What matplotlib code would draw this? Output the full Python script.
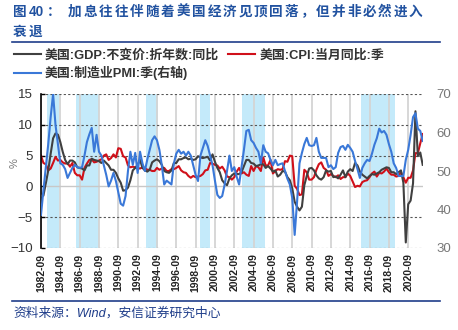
import matplotlib
matplotlib.use("Agg")
import matplotlib.pyplot as plt
from matplotlib.lines import Line2D
import numpy as np
import pandas as pd

plt.rcParams['font.family'] = ['Liberation Sans', 'Noto Sans CJK SC', 'DejaVu Sans']
plt.rcParams['axes.unicode_minus'] = True

# 季度：1982Q3 - 2022Q1
quarters = pd.period_range('1982Q3', '2022Q1', freq='Q')

# 美国:GDP:不变价:折年数:同比 (%)
gdp = [-1.5, -1.5,
       0.5, 2.6, 5.3, 7.8,
       8.6, 8.4, 7.2, 5.6,
       4.3, 3.6, 4.2, 4.2,
       3.9, 3.1, 3.0, 2.9,
       2.6, 3.4, 3.4, 4.5,
       4.3, 4.2, 4.1, 3.8,
       4.2, 3.8, 3.4, 2.7,
       2.7, 2.2, 1.3, 0.6,
       -0.7, -0.6, -0.2, 1.0,
       2.6, 3.0, 3.5, 4.3,
       3.0, 2.6, 2.4, 2.7,
       3.9, 4.2, 4.4, 4.1,
       3.5, 2.5, 2.3, 2.2,
       2.6, 3.8, 3.8, 4.4,
       4.4, 4.6, 4.7, 4.4,
       4.5, 4.3, 4.4, 4.9,
       4.7, 4.6, 4.7, 4.8,
       4.2, 5.2, 4.0, 3.0,
       2.3, 1.0, 0.5, 0.2,
       1.3, 1.8, 2.1, 2.0,
       2.0, 2.3, 3.3, 4.3,
       4.3, 3.8, 3.7, 3.3,
       3.4, 3.6, 3.6, 3.0,
       3.3, 2.9, 2.4, 2.6,
       1.6, 1.9, 2.5, 2.4,
       1.5, 1.0, -0.3, -2.5,
       -3.3, -3.9, -3.3, 0.2,
       1.7, 2.9, 3.0, 2.6,
       1.8, 1.3, 1.1, 1.5,
       2.6, 2.4, 2.5, 1.5,
       1.6, 1.3, 1.9, 2.6,
       1.5, 2.4, 2.8, 2.5,
       3.8, 3.4, 2.4, 1.9,
       1.6, 1.3, 1.7, 2.0,
       1.9, 2.1, 2.3, 2.7,
       2.9, 3.1, 3.0, 2.3,
       2.3, 2.0, 2.3, 2.6,
       0.6, -9.1, -2.9, -2.3,
       0.5, 12.2, 4.9, 5.5,
       3.5]

# 美国:CPI:当月同比:季 (%)
cpi = [5.0, 3.8,
       3.6, 2.6, 2.9, 3.8,
       4.8, 4.2, 4.3, 3.9,
       3.7, 3.8, 3.2, 3.8,
       2.2, 1.8, 1.8, 1.1,
       3.0, 3.7, 4.3, 4.4,
       3.9, 4.0, 4.2, 4.4,
       5.0, 5.2, 4.3, 4.6,
       5.2, 4.7, 6.2, 6.1,
       4.9, 4.7, 3.4, 3.1,
       3.2, 3.1, 3.0, 2.9,
       3.1, 3.0, 2.7, 2.7,
       2.5, 2.5, 3.0, 2.7,
       2.9, 3.0, 2.5, 2.5,
       2.8, 2.8, 3.0, 3.3,
       2.6, 2.3, 2.2, 1.7,
       1.4, 1.7, 1.5, 1.6,
       1.7, 2.0, 2.6, 2.7,
       3.8, 3.7, 3.5, 3.4,
       2.9, 3.2, 2.6, 1.6,
       1.5, 1.1, 1.5, 2.4,
       3.0, 2.1, 2.3, 1.9,
       1.7, 3.3, 2.5, 3.3,
       3.1, 2.5, 4.7, 3.4,
       3.4, 4.3, 2.1, 2.5,
       2.8, 2.7, 2.8, 4.1,
       4.0, 5.0, 4.9, 0.1,
       -0.4, -1.4, -1.3, 2.7,
       2.3, 1.1, 1.1, 1.5,
       2.7, 3.6, 3.9, 3.0,
       2.7, 1.7, 2.0, 1.7,
       1.5, 1.8, 1.2, 1.5,
       1.5, 2.1, 1.7, 0.8,
       -0.1, 0.1, 0.0, 0.7,
       0.9, 1.0, 1.5, 2.1,
       2.4, 1.6, 2.2, 2.1,
       2.4, 2.9, 2.3, 1.9,
       1.9, 1.6, 1.7, 2.3,
       1.5, 0.6, 1.4, 1.4,
       2.6, 5.4, 5.4, 7.0,
       8.5]

# 美国:制造业PMI:季 (右轴)
pmi = [38.6, 45,
       51, 57, 64, 70,
       62, 57, 52, 51.6,
       50.5, 48.2, 49.5, 50.8,
       51.6, 51, 50.8, 51,
       54, 57.5, 59.5, 61.2,
       55, 59.4, 55, 54,
       51.5, 49, 46, 47.5,
       49.5, 47.4, 44.5, 41.5,
       41, 43.5, 50, 55,
       51.6, 54.7, 49.5, 55,
       52, 50, 53, 55.5,
       58, 59, 58, 55.5,
       51.5, 46.5, 47.5, 47,
       46.5, 52, 54.5, 55.5,
       54.5, 55, 54, 55,
       54, 51.5, 49, 47.4,
       54, 56, 58, 56.5,
       54, 51.5, 47.5, 43.8,
       43, 43.5, 46.4, 50,
       54, 50, 51, 48.5,
       46.5, 51, 55.5, 60.4,
       60.7, 58, 57.3, 56,
       55, 52, 56.7, 55,
       54.6, 52.9, 51.5, 52.9,
       51.5, 51.8, 52, 50,
       48, 46.5, 43, 33.4,
       42, 52, 54.7, 57,
       58.6, 56.7, 56.5, 56.7,
       58.6, 55, 53.4, 53.4,
       53.4, 51, 51.5, 50.5,
       51, 54.7, 56.2, 56.5,
       55.5, 56.8, 56, 55,
       52.6, 50.5, 48.2, 50.8,
       52, 52.9, 52.6, 54.5,
       56.8, 58.5, 61, 60,
       60.4, 59.4, 57, 55,
       52, 50.8, 48.7, 48.7,
       48.7, 52.9, 55.5, 59.4,
       64, 65, 61, 60.4,
       57.8]

# 加息区间（起止月份）
hikes = [('1983-05', '1984-07'), ('1986-05', '1988-09'), ('1993-07', '1994-10'),
         ('1999-02', '2000-03'), ('2003-06', '2005-11'), ('2015-10', '2019-04')]

start = pd.Period('1982-09', freq='M')
def month_pos(s):
    return (pd.Period(s, freq='M') - start).n / 3.0

x = np.arange(len(quarters))
tick_pos = x[::8]
tick_labels = [q.asfreq('M', 'end').strftime('%Y-%m') for q in quarters[::8]]

fig = plt.figure(figsize=(4.58, 3.30), dpi=100)
W, H = 458, 330
ax = fig.add_axes([41 / W, 1 - 248 / H, (422.7 - 41) / W, (248 - 94) / H])
ax2 = ax.twinx()

for a, b in hikes:
    ax.axvspan(month_pos(a), month_pos(b), color='#c4eafa', lw=0, zorder=0)

for p in tick_pos:
    ax.axvline(p, color='#d4d4d4', lw=1.3, zorder=0.5)
for v in [15, 10, 5, -5, -10]:
    ax.axhline(v, color='#555555', lw=0.8, ls=(0, (2, 2)), zorder=0.6)
ax.axhline(0, color='#c8c8c8', lw=1.0, zorder=0.6)

l_gdp, = ax.plot(x, gdp, color='#404040', lw=1.5, zorder=3)
l_cpi, = ax.plot(x, cpi, color='#d0101a', lw=1.5, zorder=2)
l_pmi, = ax2.plot(x, pmi, color='#3a78d8', lw=1.5, zorder=2)

ax.set_xlim(0, len(x) - 1)
ax.set_ylim(-10, 15)
ax.set_yticks([-10, -5, 0, 5, 10, 15])
ax.set_yticklabels(['\u221210', '\u22125', '0', '5', '10', '15'])
ax2.set_ylim(30, 70)
ax2.set_yticks([30, 40, 50, 60, 70])

ax.set_xticks(tick_pos)
ax.set_xticklabels(tick_labels, rotation=90, fontsize=7.5, color='#222222', fontweight='bold')
ax.tick_params(axis='x', length=0, pad=4)
ax.tick_params(axis='y', direction='in', length=3, width=1, labelsize=9.5, labelcolor='#333333', pad=6)
ax2.tick_params(axis='y', length=0, labelsize=9.5, labelcolor='#777777', pad=10)

for s in ['top', 'right', 'bottom']:
    ax.spines[s].set_visible(False)
    ax2.spines[s].set_visible(False)
ax2.spines['left'].set_visible(False)
ax.spines['left'].set_color('black')
ax.spines['left'].set_linewidth(1.2)

ax.set_ylabel('%', fontsize=8, color='#777777')
ax.yaxis.set_label_coords((20 - 41) / (422.7 - 41), 0.55)

# 图例
fig.legend([l_gdp, l_pmi, l_cpi],
           ['美国:GDP:不变价:折年数:同比', '美国:制造业PMI:季(右轴)', '美国:CPI:当月同比:季'],
           ncol=2, loc='upper left', bbox_to_anchor=(14 / W, 1 - 49 / H), frameon=False,
           prop={'size': 9.3, 'weight': 'bold'}, handlelength=2.1, handletextpad=0.3,
           columnspacing=0.7, labelspacing=0.35, borderpad=0, borderaxespad=0,
           labelcolor='#333333')

# 标题
title_color = '#2152a0'
tfont = dict(color=title_color, fontsize=9.8, fontweight='bold', va='center', ha='left')
fig.text(13 / W, 1 - 12 / H, '图', **tfont)
fig.text(29 / W, 1 - 12 / H, '40', **tfont)
fig.text(47 / W, 1 - 12 / H, '：', **tfont)
for i, ch in enumerate('加息往往伴随着美国经济见顶回落，但并非必然进入'):
    fig.text((68 + i * 15.5) / W, 1 - 12 / H, ch, **tfont)
for i, ch in enumerate('衰退'):
    fig.text((13 + i * 15.5) / W, 1 - 32 / H, ch, **tfont)

fig.add_artist(Line2D([12 / W, 440 / W], [1 - 42 / H, 1 - 42 / H], color='#1f3d8a', lw=1.2))
fig.add_artist(Line2D([12 / W, 440 / W], [1 - 301 / H, 1 - 301 / H], color='#1f3d8a', lw=1.2))

fig.text(13 / W, 1 - 313 / H, '资料来源：Wind，安信证券研究中心', color='#1f3d8a',
         fontsize=9.2, style='italic', va='center', ha='left')

plt.savefig('out.png', dpi=100)
